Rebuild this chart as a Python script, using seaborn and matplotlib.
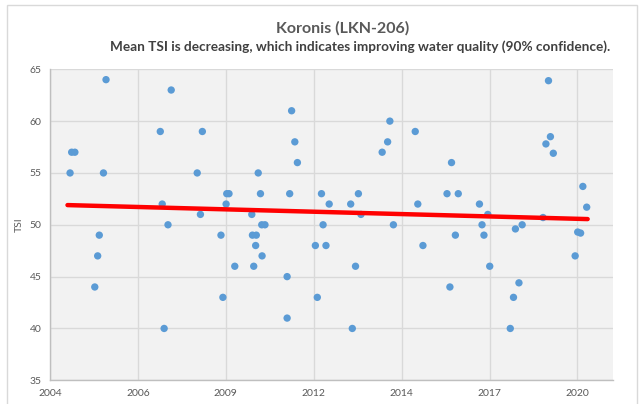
import numpy as np
import pandas as pd
import matplotlib
matplotlib.use('Agg')
import matplotlib.pyplot as plt
import seaborn as sns
from matplotlib.ticker import FuncFormatter
from matplotlib.patches import Rectangle

# Sample dates (decimal years) and TSI values
sample_year = [2004.66, 2004.71, 2004.81, 2005.43, 2005.52, 2005.57, 2005.70, 2005.78,
               2007.47, 2007.53, 2007.59, 2007.71, 2007.81, 2008.62, 2008.72, 2008.78,
               2009.36, 2009.42, 2009.52, 2009.54, 2009.61, 2009.79, 2010.32, 2010.34,
               2010.38, 2010.44, 2010.46, 2010.52, 2010.59, 2010.63, 2010.64, 2010.73,
               2011.42, 2011.42, 2011.50, 2011.56, 2011.66, 2011.74, 2012.30, 2012.36,
               2012.49, 2012.54, 2012.63, 2012.73, 2013.40, 2013.45, 2013.55, 2013.64,
               2013.72, 2014.38, 2014.55, 2014.62, 2014.73, 2015.41, 2015.49, 2015.65,
               2016.40, 2016.49, 2016.54, 2016.66, 2016.75, 2017.41, 2017.49, 2017.55,
               2017.67, 2017.73, 2018.37, 2018.47, 2018.53, 2018.64, 2018.74, 2019.39,
               2019.48, 2019.56, 2019.62, 2019.71, 2020.39, 2020.47, 2020.56, 2020.63,
               2020.75]
tsi = [55, 57, 57, 44, 47, 49, 55, 64,
       59, 52, 40, 50, 63, 55, 51, 59,
       49, 43, 52, 53, 53, 46, 51, 49,
       46, 48, 49, 55, 53, 50, 47, 50,
       45, 41, 53, 61, 58, 56, 48, 43,
       53, 50, 48, 52, 52, 40, 46, 53,
       51, 57, 58, 60, 50, 59, 52, 48,
       53, 44, 56, 49, 53, 52, 50, 49,
       51, 46, 40, 43, 49.6, 44.4, 50, 50.7,
       57.8, 63.9, 58.5, 56.9, 47.0, 49.3, 49.2, 53.7,
       51.7]

# Trend line end points
trend_year = [2004.58, 2020.78]
trend_tsi = [51.9, 50.55]

df = pd.DataFrame({'year': sample_year, 'tsi': tsi})
trend_df = pd.DataFrame({'year': trend_year, 'tsi': trend_tsi})

sns.set_style('white')
plt.rcParams['font.family'] = ['Lato', 'DejaVu Sans']

fig = plt.figure(figsize=(6.43, 4.04), dpi=100)
ax = fig.add_axes([0.0778, 0.0587, 0.875, 0.7698])
ax.set_facecolor('#F2F2F2')

sns.scatterplot(data=df, x='year', y='tsi', color='#5B9BD5', s=28, edgecolor='none',
                ax=ax, zorder=3)
sns.lineplot(data=trend_df, x='year', y='tsi', color='#FF0000', linewidth=3.2, ax=ax,
             zorder=4)

# Excel-style date axis: 1000-day major units starting mid-January 2004
x0 = 2004.036
step = 1000 / 365.25
ax.set_xlim(x0, x0 + 6.4 * step)
ax.set_xticks([x0 + k * step for k in range(7)])
ax.xaxis.set_major_formatter(FuncFormatter(lambda v, p: f'{int(np.floor(v + 1e-6))}'))
ax.set_ylim(35, 65)
ax.set_yticks(range(35, 66, 5))

ax.grid(True, color='#D9D9D9', linewidth=1)
ax.set_axisbelow(True)
for side in ['top', 'right']:
    ax.spines[side].set_visible(False)
for side in ['left', 'bottom']:
    ax.spines[side].set_color('#BFBFBF')
    ax.spines[side].set_linewidth(1)
ax.tick_params(length=0, labelsize=7.5, labelcolor='#595959', pad=6)
ax.set_xlabel('')
ax.set_ylabel('TSI', fontsize=7.5, color='#595959', labelpad=4)

fig.text(0.533, 0.93, 'Koronis (LKN-206)', ha='center', va='center',
         fontsize=11.5, fontweight='bold', color='#595959')
fig.text(0.56, 0.884, 'Mean TSI is decreasing, which indicates improving water quality (90% confidence).',
         ha='center', va='center', fontsize=9.8, fontweight='bold', color='#404040')

fig.patches.append(Rectangle((7 / 643, -0.01), 630 / 643, 1.01 - 5 / 404,
                             transform=fig.transFigure, fill=False,
                             edgecolor='#D9D9D9', linewidth=1))

plt.savefig('out.png', dpi=100)
